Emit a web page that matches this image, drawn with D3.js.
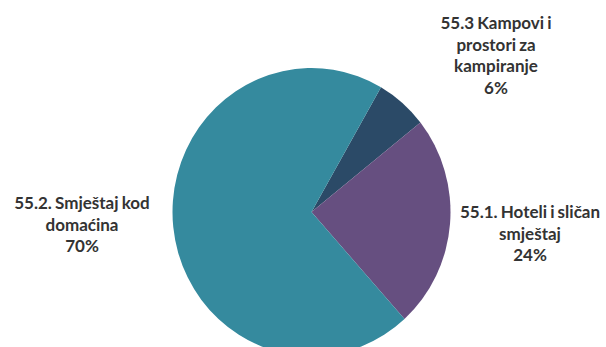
<!DOCTYPE html>
<html>
<head>
<meta charset="utf-8">
<script src="https://cdn.jsdelivr.net/npm/d3@7"></script>
<style>
  body { margin: 0; background: #fff; }
  text { font-family: Lato, "Open Sans", sans-serif; font-weight: bold; fill: #333; font-size: 17px; word-spacing: -1px; }
</style>
</head>
<body>
<svg id="chart" width="606" height="347"></svg>
<script>
var categories = ["55.3 Kampovi i prostori za kampiranje", "55.1. Hoteli i sličan smještaj", "55.2. Smještaj kod domaćina"];
var values = [6, 24, 70];
var colors = ["#2b4a67", "#664f80", "#358a9e"];
// label lines, hand broken like the original
var labelLines = [
  ["55.3 Kampovi i", "prostori za", "kampiranje", "6%"],
  ["55.1. Hoteli i sličan", "smještaj", "24%"],
  ["55.2. Smještaj kod", "domaćina", "70%"]
];
var labelPos = [[496, 23], [530, 212], [82, 203]];

var svg = d3.select("#chart");

var cx = 311.5, cy = 212, rx = 139, ry = 144;

var pie = d3.pie()
    .sort(null)
    .startAngle(30 * Math.PI / 180)
    .endAngle(30 * Math.PI / 180 + 2 * Math.PI);

var arc = d3.arc().innerRadius(0).outerRadius(ry);

var g = svg.append("g")
    .attr("transform", "translate(" + cx + "," + cy + ") scale(" + (rx / ry) + ",1)");

g.selectAll("path")
  .data(pie(values))
  .enter().append("path")
    .attr("d", arc)
    .attr("fill", function(d, i) { return colors[i]; });

var labels = svg.append("g").selectAll("text")
  .data(labelLines)
  .enter().append("text")
    .attr("text-anchor", "middle")
    .attr("x", function(d, i) { return labelPos[i][0]; })
    .attr("y", function(d, i) { return labelPos[i][1]; });

labels.selectAll("tspan")
  .data(function(d, i) { return d.map(function(t) { return {t: t, x: labelPos[i][0]}; }); })
  .enter().append("tspan")
    .attr("x", function(d) { return d.x; })
    .attr("dy", function(d, j) { return j == 0 ? "0.35em" : "21.7px"; })
    .text(function(d) { return d.t; });
</script>
</body>
</html>
